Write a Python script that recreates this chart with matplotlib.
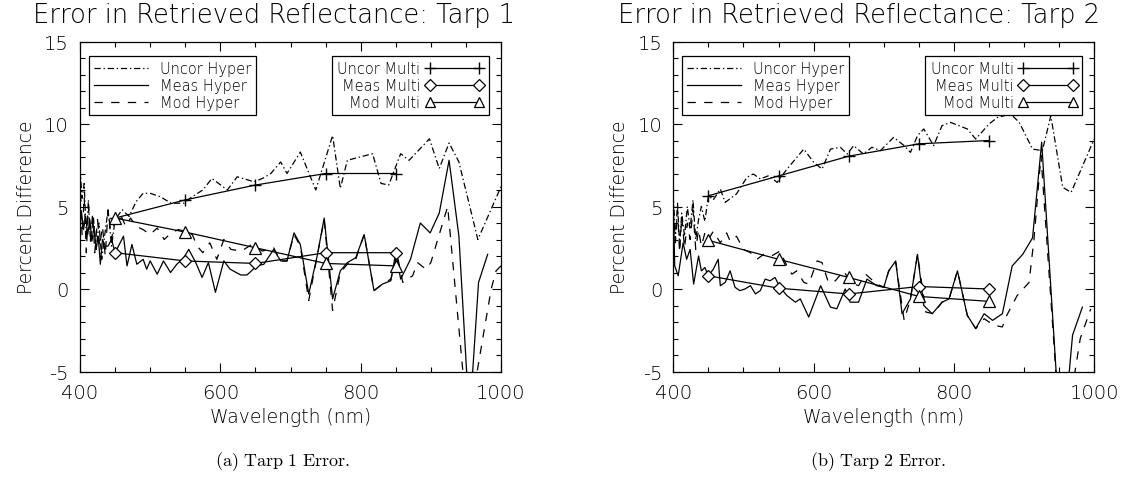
import matplotlib
matplotlib.use("Agg")
import matplotlib.pyplot as plt
from matplotlib.lines import Line2D
from matplotlib.ticker import MultipleLocator

# ---------------- data ----------------
multi_wl = [450, 550, 650, 750, 850]

# Tarp 1
t1_uncor_multi = [4.3, 5.4, 6.3, 7.0, 7.0]
t1_meas_multi = [2.2, 1.7, 1.55, 2.2, 2.2]
t1_mod_multi = [4.3, 3.45, 2.5, 1.55, 1.4]

t1_uncor_wl = [400, 403, 406, 409, 412, 415, 419, 423, 427, 431, 435, 440, 445, 450, 460, 470,
               480, 490, 500, 514, 530, 548, 560, 575, 588, 610, 624, 648, 660, 672, 686, 695,
               714, 736, 760, 771, 781, 817, 829, 840, 857, 869, 898, 912, 926, 940, 967, 1000]
t1_uncor_hyper = [7.3, 5.5, 6.4, 3.0, 5.4, 2.8, 4.4, 2.4, 4.0, 1.8, 3.2, 4.8, 2.6, 4.2, 4.8, 4.4,
                  5.3, 5.8, 5.8, 5.6, 5.2, 5.2, 5.6, 6.0, 6.7, 6.0, 6.8, 6.5, 6.7, 7.0, 7.7, 7.0,
                  8.3, 6.0, 9.3, 6.1, 7.8, 8.2, 6.4, 6.3, 8.2, 7.8, 9.1, 7.3, 8.85, 7.7, 3.0, 6.2]

t1_meas_wl = [400, 402, 405, 408, 411, 414, 417, 420, 423, 426, 429, 432, 436, 440, 445, 450,
              462, 467, 474, 481, 490, 495, 500, 510, 519, 529, 538, 548, 555, 565, 574, 583,
              593, 605, 614, 629, 638, 652, 662, 676, 686, 695, 705, 714, 726, 738, 748, 760,
              771, 781, 793, 805, 819, 831, 843, 850, 857, 871, 885, 899, 912, 926, 940, 955,
              968, 981]
t1_meas_hyper = [3.5, 4.7, 3.6, 4.4, 3.3, 4.2, 2.9, 3.8, 2.4, 3.2, 1.5, 3.0, 2.6, 2.6, 3.0, 2.2,
                 3.2, 1.4, 2.7, 1.5, 1.8, 1.2, 1.7, 0.9, 1.7, 1.0, 1.5, 1.9, 2.4, 1.6, 0.7, 1.6,
                 -0.2, 1.7, 1.2, 0.85, 0.85, 1.4, 1.5, 2.4, 1.7, 1.7, 3.4, 2.7, -0.3, 2.0, 4.3, -0.6,
                 1.1, 1.6, 1.9, 3.3, -0.1, 0.3, 0.5, 2.2, 0.6, 1.8, 4.0, 3.4, 4.6, 7.8, 3.2, -8.0,
                 0.4, 2.1]

t1_mod_wl = [400, 403, 406, 409, 412, 415, 418, 421, 425, 428, 432, 436, 440, 445, 450, 458,
             465, 472, 480, 490, 500, 510, 520, 530, 540, 550, 560, 567, 575, 585, 595, 605,
             615, 630, 645, 660, 676, 686, 695, 705, 714, 726, 738, 748, 760, 771, 781, 793,
             805, 819, 831, 843, 852, 860, 874, 881, 893, 900, 907, 924, 950, 958, 986, 993, 1000]
t1_mod_hyper = [6.8, 3.2, 5.6, 2.2, 5.0, 3.0, 4.6, 2.2, 4.2, 2.6, 3.8, 2.0, 4.8, 3.0, 4.3, 4.5,
                3.8, 4.3, 3.8, 3.6, 3.3, 3.7, 3.0, 3.4, 3.6, 3.5, 3.3, 2.6, 2.2, 2.8, 1.8, 3.0,
                2.4, 2.3, 2.7, 2.3, 2.5, 1.7, 1.7, 3.3, 2.6, -0.7, 2.0, 4.2, -1.3, 1.0, 1.5, 1.8,
                3.3, -0.1, 0.3, 0.6, 2.1, 0.4, 0.8, 1.6, 1.2, 1.6, 2.6, 5.0, -7.0, -7.0, 0.0, 1.1, 1.4]

# Tarp 2
t2_uncor_multi = [5.65, 6.85, 8.05, 8.8, 9.0]
t2_meas_multi = [0.8, 0.05, -0.3, 0.15, 0.0]
t2_mod_multi = [2.95, 1.8, 0.7, -0.45, -0.75]

t2_uncor_wl = [400, 403, 406, 409, 412, 416, 420, 424, 428, 432, 436, 440, 445, 450, 457, 467,
               474, 490, 505, 514, 524, 536, 548, 562, 586, 600, 612, 624, 638, 648, 657, 671,
               683, 695, 714, 729, 738, 748, 757, 771, 783, 795, 819, 831, 850, 862, 881, 893,
               912, 926, 938, 955, 967, 1000]
t2_uncor_hyper = [5.6, 3.0, 5.2, 2.6, 4.6, 3.2, 5.0, 3.6, 5.4, 3.0, 4.2, 5.0, 4.1, 5.66, 5.4, 6.06,
                  5.25, 5.76, 6.77, 6.97, 6.67, 6.87, 6.46, 7.27, 8.48, 7.68, 7.27, 8.48, 8.59, 8.18, 8.69, 8.18,
                  8.59, 8.38, 9.19, 8.69, 8.28, 9.29, 9.7, 8.69, 9.9, 10.1, 9.7, 9.09, 10.0, 10.4, 10.6, 10.1,
                  8.48, 8.38, 10.5, 6.16, 5.86, 9.1]

t2_meas_wl = [400, 402, 407, 414, 419, 424, 429, 436, 440, 445, 450, 457, 464, 467, 474, 481,
              488, 495, 502, 510, 517, 524, 531, 538, 545, 552, 562, 574, 581, 593, 610, 624,
              633, 645, 652, 664, 676, 690, 700, 707, 717, 726, 738, 748, 757, 769, 783, 793,
              805, 819, 831, 843, 855, 869, 883, 898, 912, 925, 950, 958, 969, 983]
t2_meas_hyper = [5.4, 1.4, 0.8, 2.8, 1.8, 2.4, 0.3, 2.0, 1.1, 1.3, 0.8, 1.2, 1.8, 0.2, 0.4, 1.1,
                 0.1, -0.1, 0.0, 0.2, -0.3, -0.1, 0.6, 0.5, 0.7, 0.1, -0.4, -0.8, -0.6, -1.7, 0.2, -1.1,
                 -1.2, 0.0, -0.8, -0.8, 0.6, 0.2, 0.1, 1.1, 1.7, -1.5, -0.6, 2.1, -1.0, -1.5, -0.8, -0.6,
                 1.1, -1.6, -2.4, -1.5, -1.9, -1.5, 1.4, 2.1, 3.1, 8.9, -8.0, -8.0, -2.8, -1.1]

t2_mod_wl = [400, 403, 406, 409, 412, 416, 420, 424, 428, 432, 436, 440, 445, 450, 457, 467,
             476, 481, 490, 500, 510, 519, 529, 540, 552, 562, 569, 576, 586, 593, 605, 612,
             621, 631, 643, 652, 664, 674, 690, 700, 707, 717, 729, 738, 748, 760, 771, 783,
             793, 805, 819, 831, 843, 857, 869, 874, 890, 907, 914, 924, 950, 965, 980, 995]
t2_mod_hyper = [5.0, 2.8, 4.8, 2.2, 4.4, 2.5, 4.0, 3.0, 4.8, 2.4, 3.6, 2.6, 3.4, 3.0, 3.5, 2.8,
                3.4, 2.9, 3.2, 2.4, 2.2, 1.8, 2.1, 2.0, 2.3, 1.4, 0.9, 1.1, 0.4, 0.3, 1.7, 1.6,
                0.4, 0.5, 1.1, 0.4, 0.2, 0.9, 0.3, 0.1, 1.1, 1.6, -1.9, -0.6, 2.1, -1.4, -1.5, -0.8,
                -0.6, 1.1, -1.6, -2.4, -1.8, -2.2, -2.3, -1.7, -0.4, 0.4, 3.0, 8.1, -8.0, -7.0, -3.0, -1.2]

titles = ["Error in Retrieved Reflectance: Tarp 1", "Error in Retrieved Reflectance: Tarp 2"]
captions = [r"$\mathrm{(a)\ Tarp\ 1\ Error.}$", r"$\mathrm{(b)\ Tarp\ 2\ Error.}$"]
x_label = "Wavelength (nm)"
y_label = "Percent Difference"
hyper_labels = ["Uncor Hyper", "Meas Hyper", "Mod Hyper"]
multi_labels = ["Uncor Multi", "Meas Multi", "Mod Multi"]

panels = [
    dict(uncor=(t1_uncor_wl, t1_uncor_hyper), meas=(t1_meas_wl, t1_meas_hyper),
         mod=(t1_mod_wl, t1_mod_hyper),
         multi=(t1_uncor_multi, t1_meas_multi, t1_mod_multi)),
    dict(uncor=(t2_uncor_wl, t2_uncor_hyper), meas=(t2_meas_wl, t2_meas_hyper),
         mod=(t2_mod_wl, t2_mod_hyper),
         multi=(t2_uncor_multi, t2_meas_multi, t2_mod_multi)),
]

# ---------------- styling ----------------
plt.rcParams['font.family'] = ['DejaVu Sans']
plt.rcParams['font.weight'] = 'light'
plt.rcParams['axes.labelweight'] = 'light'
plt.rcParams['mathtext.fontset'] = 'cm'
plt.rcParams['lines.scale_dashes'] = False
plt.rcParams['axes.unicode_minus'] = False

W, H = 1132, 489
fig = plt.figure(figsize=(W / 100, H / 100), dpi=100)

LW = 0.9
DASHDOT = (0, (4.5, 2.0, 1.0, 2.0))
DASHED = (0, (6.0, 6.0))
SOLID = '-'

ax_lefts = [80, 673.3]
ax_w, ax_top, ax_bot = 421, 42.5, 372.5
title_cx = [274, 859]
caption_cx = [283, 878]

for i, p in enumerate(panels):
    ax = fig.add_axes([ax_lefts[i] / W, 1 - ax_bot / H, ax_w / W, (ax_bot - ax_top) / H])
    ax.set_xlim(400, 1000)
    ax.set_ylim(-5, 15)
    ax.xaxis.set_major_locator(MultipleLocator(200))
    ax.xaxis.set_minor_locator(MultipleLocator(50))
    ax.yaxis.set_major_locator(MultipleLocator(5))
    ax.yaxis.set_minor_locator(MultipleLocator(1))
    ax.tick_params(which='both', direction='in', top=True, right=True, width=0.8,
                   labelsize=14, colors='black')
    ax.tick_params(which='major', length=6.5, pad=8)
    ax.tick_params(which='minor', length=3.5)
    for s in ax.spines.values():
        s.set_linewidth(0.9)

    ax.plot(*p['uncor'], color='black', lw=LW, linestyle=DASHDOT)
    ax.plot(*p['meas'], color='black', lw=LW, linestyle=SOLID)
    ax.plot(*p['mod'], color='black', lw=LW, linestyle=DASHED)

    um, mm, om = p['multi']
    ax.plot(multi_wl, um, color='black', lw=LW, marker='+', ms=9, mew=1.0)
    ax.plot(multi_wl, mm, color='black', lw=LW, marker='D', ms=6.5, mfc='white', mew=0.9)
    ax.plot(multi_wl, om, color='black', lw=LW, marker='^', ms=8, mfc='white', mew=0.9)

    ax.set_xlabel(x_label, fontsize=13.5, labelpad=4)
    ax.set_ylabel(y_label, fontsize=13.5, labelpad=6)

    # hyper legend
    h_handles = [Line2D([], [], color='black', lw=LW, linestyle=DASHDOT),
                 Line2D([], [], color='black', lw=LW, linestyle=SOLID),
                 Line2D([], [], color='black', lw=LW, linestyle=DASHED)]
    leg1 = ax.legend(h_handles, hyper_labels, loc='upper left', bbox_to_anchor=(0.021, 0.956),
                     fontsize=10.5, handlelength=3.7, handletextpad=0.8, labelspacing=0.12,
                     borderpad=0.35, borderaxespad=0, fancybox=False, edgecolor='black',
                     framealpha=1)
    leg1.get_frame().set_linewidth(0.9)
    ax.add_artist(leg1)

    m_handles = [Line2D([], [], color='black', lw=LW, marker='+', ms=8, mew=1.0),
                 Line2D([], [], color='black', lw=LW, marker='D', ms=6, mfc='white', mew=0.9),
                 Line2D([], [], color='black', lw=LW, marker='^', ms=7, mfc='white', mew=0.9)]
    leg2 = ax.legend(m_handles, multi_labels, loc='upper right', bbox_to_anchor=(0.971, 0.956),
                     fontsize=10.5, handlelength=4.0, handletextpad=0.35, labelspacing=0.12,
                     borderpad=0.35, borderaxespad=0, fancybox=False, edgecolor='black',
                     framealpha=1, markerfirst=False, numpoints=2)
    leg2.get_frame().set_linewidth(0.9)

    fig.text(title_cx[i] / W, 1 - 15 / H, titles[i], ha='center', va='center', fontsize=18.5)
    fig.text(caption_cx[i] / W, 1 - 462 / H, captions[i], ha='center', va='center', fontsize=13)

fig.savefig('out.png', dpi=100)
